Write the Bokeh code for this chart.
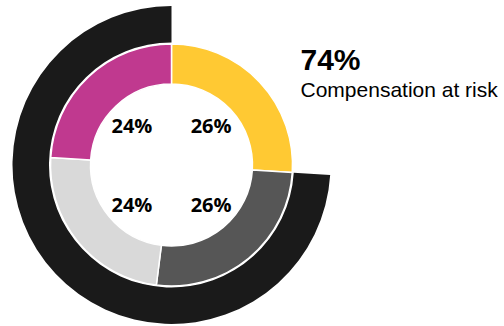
import numpy as np
from bokeh.plotting import figure
from bokeh.models import Range1d, ColumnDataSource
from bokeh.core.properties import value
from bokeh.embed import file_html
from bokeh.resources import INLINE

# ---- data ----
segments = ["A", "B", "C", "D"]          # inner ring, clockwise from 12 o'clock
shares = [26, 26, 24, 24]
seg_labels = ["26%", "26%", "24%", "24%"]
seg_colors = ["#FFC933", "#565656", "#D9D9D9", "#C0398F"]
at_risk = 74
headline = "74%"
subtitle = "Compensation at risk"

W, H = 504, 326
p = figure(width=W, height=H, output_backend="svg", toolbar_location=None,
           x_range=Range1d(0, W), y_range=Range1d(0, H), min_border=0)
p.axis.visible = False
p.grid.visible = False
p.outline_line_color = None
p.background_fill_color = "white"
p.border_fill_color = "white"

cx, cy = 171, H - 164.5
deg = np.pi / 180

# outer ring: share at risk, counter-clockwise from top
p.annular_wedge(x=cx, y=cy, inner_radius=122.5, outer_radius=159,
                start_angle=90 * deg, end_angle=(90 + at_risk * 3.6) * deg,
                color="#1A1A1A", line_color=None)

# inner ring: clockwise from top
cum = np.cumsum([0] + shares)
ends = [(90 - cum[i] * 3.6) * deg for i in range(len(shares))]
starts = [(90 - cum[i + 1] * 3.6) * deg for i in range(len(shares))]
src = ColumnDataSource(dict(start=starts, end=ends, color=seg_colors))
p.annular_wedge(x=cx, y=cy, inner_radius=81, outer_radius=121,
                start_angle="start", end_angle="end", fill_color="color",
                line_color="white", line_width=1.5, source=src)

# labels at the centre of each quadrant
quad = [45, -45, -135, 135]
lx = [cx + 56 * np.cos(a * deg) for a in quad]
ly = [cy + 56 * np.sin(a * deg) for a in quad]
p.text(x=lx, y=ly, text=seg_labels, text_align="center", text_baseline="middle",
       text_font=value("Open Sans"), text_font_style="bold",
       text_font_size="20px", text_color="black")

p.text(x=[300], y=[H - 58.5], text=[headline], text_font=value("Liberation Sans"),
       text_font_style="bold", text_font_size="30px", text_baseline="middle",
       text_color="black")
p.text(x=[300], y=[H - 89], text=[subtitle], text_font=value("Liberation Sans"),
       text_font_size="21px", text_baseline="middle", text_color="black")

open("out.html", "w").write(file_html(p, INLINE))
